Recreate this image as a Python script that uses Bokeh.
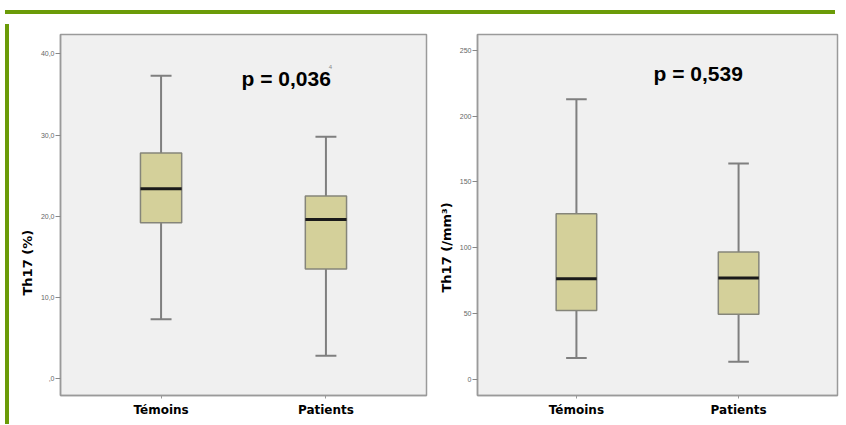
from bokeh.plotting import figure
from bokeh.models import FactorRange, Range1d, FixedTicker, Label, Div, Spacer, ColumnDataSource, Title
from bokeh.layouts import row, column
from bokeh.embed import file_html
from bokeh.resources import INLINE

# ---------------- data ----------------
groups = ["Témoins", "Patients"]

pct_whisker_low = [7.3, 2.8]
pct_q1 = [19.2, 13.5]
pct_median = [23.4, 19.6]
pct_q3 = [27.8, 22.5]
pct_whisker_high = [37.3, 29.8]
pct_p_value = "p = 0,036"
pct_ticks = [0, 10, 20, 30, 40]
pct_tick_labels = [",0", "10,0", "20,0", "30,0", "40,0"]
pct_axis_title = "Th17 (%)"

abs_whisker_low = [16.3, 13.5]
abs_q1 = [52.3, 49.5]
abs_median = [76.5, 77.0]
abs_q3 = [125.8, 96.8]
abs_whisker_high = [212.8, 164.0]
abs_p_value = "p = 0,539"
abs_ticks = [0, 50, 100, 150, 200, 250]
abs_tick_labels = ["0", "50", "100", "150", "200", "250"]
abs_axis_title = "Th17 (/mm³)"

GREEN = "#6b9b08"
FRAME = "#9a9a9a"
BOX_FILL = "#d4d09a"
WHISK = "#7f7f7f"
FIG_H = 400


def make_panel(low, q1, med, q3, high, ticks, tick_labels, y_rng, width,
               mb_left, mb_right, mb_top, mb_bottom, title, title_offset,
               pval, p_x, p_y):
    p = figure(
        x_range=FactorRange(factors=groups, range_padding=0.11, range_padding_units="absolute"),
        y_range=Range1d(*y_rng),
        width=width, height=FIG_H,
        min_border_left=mb_left, min_border_right=mb_right,
        min_border_top=mb_top, min_border_bottom=mb_bottom,
        output_backend="svg", toolbar_location=None,
        background_fill_color="#f0f0f0", border_fill_color="white",
    )
    p.grid.visible = False
    p.outline_line_color = FRAME
    p.outline_line_width = 1.5

    src = ColumnDataSource(dict(g=groups, low=low, q1=q1, med=med, q3=q3, high=high))
    p.segment(x0="g", y0="q3", x1="g", y1="high", source=src, line_color=WHISK, line_width=2)
    p.segment(x0="g", y0="q1", x1="g", y1="low", source=src, line_color=WHISK, line_width=2)
    p.rect(x="g", y="high", width=0.127, height=2, height_units="screen", source=src,
           fill_color=WHISK, line_color=None)
    p.rect(x="g", y="low", width=0.127, height=2, height_units="screen", source=src,
           fill_color=WHISK, line_color=None)
    p.vbar(x="g", width=0.25, top="q3", bottom="q1", source=src,
           fill_color=BOX_FILL, line_color="#85857a", line_width=1.5)
    p.rect(x="g", y="med", width=0.25, height=3, height_units="screen", source=src,
           fill_color="#1a1a1a", line_color=None)

    # y axis
    p.yaxis.ticker = FixedTicker(ticks=ticks)
    p.yaxis.major_label_overrides = dict(zip(ticks, tick_labels))
    p.yaxis.major_label_text_font_size = "7px"
    p.yaxis.major_label_text_color = "#666666"
    p.yaxis.major_label_text_font = "Liberation Sans"
    p.yaxis.major_tick_out = 5
    p.yaxis.major_tick_in = 0
    p.yaxis.minor_tick_line_color = None
    p.yaxis.major_tick_line_color = "#888888"
    p.yaxis.major_label_standoff = 1
    p.yaxis.axis_line_color = FRAME
    p.yaxis.axis_line_width = 1.5

    # x axis
    p.xaxis.major_label_text_font = "DejaVu Sans"
    p.xaxis.major_label_text_font_style = "bold"
    p.xaxis.major_label_text_font_size = "12px"
    p.xaxis.major_label_text_color = "black"
    p.xaxis.major_tick_out = 3
    p.xaxis.major_tick_in = 0
    p.xaxis.major_tick_line_color = "#999999"
    p.xaxis.axis_line_color = FRAME
    p.xaxis.axis_line_width = 1.5
    p.xaxis.major_label_standoff = 4

    p.add_layout(Title(text=title, align="left", offset=title_offset, standoff=6,
                       text_font="DejaVu Sans", text_font_style="bold",
                       text_font_size="13px", text_color="black"), "left")
    p.add_layout(Label(x=p_x, y=p_y, x_units="screen", y_units="data", text=pval,
                       text_align="left", text_baseline="middle",
                       text_font="Liberation Sans", text_font_style="bold",
                       text_font_size="21px", text_color="black"))
    return p


p1 = make_panel(pct_whisker_low, pct_q1, pct_median, pct_q3, pct_whisker_high,
                pct_ticks, pct_tick_labels, (-2.1, 42.4), 418,
                45, 6, 15, 22, pct_axis_title, 100, pct_p_value, 181, 37.0)
p1.add_layout(Label(x=270, y=38.4, x_units="screen", y_units="data", text="4",
                    text_font="Liberation Sans", text_font_size="6px", text_color="#8a8a8a",
                    text_align="center", text_baseline="middle"))

p2 = make_panel(abs_whisker_low, abs_q1, abs_median, abs_q3, abs_whisker_high,
                abs_ticks, abs_tick_labels, (-12.2, 262.0), 408,
                45, 3, 14, 22, abs_axis_title, 103, abs_p_value, 176, 232.0)

top_gap = Spacer(width=830, height=5)
top_bar = Div(text="", width=830, height=4, styles={"background-color": GREEN})
left_bar = Div(text="", width=4, height=FIG_H, styles={"background-color": GREEN})

layout = column(top_gap, top_bar, row(left_bar, p1, p2, spacing=0), spacing=0)

open("out.html", "w").write(file_html(layout, INLINE))
